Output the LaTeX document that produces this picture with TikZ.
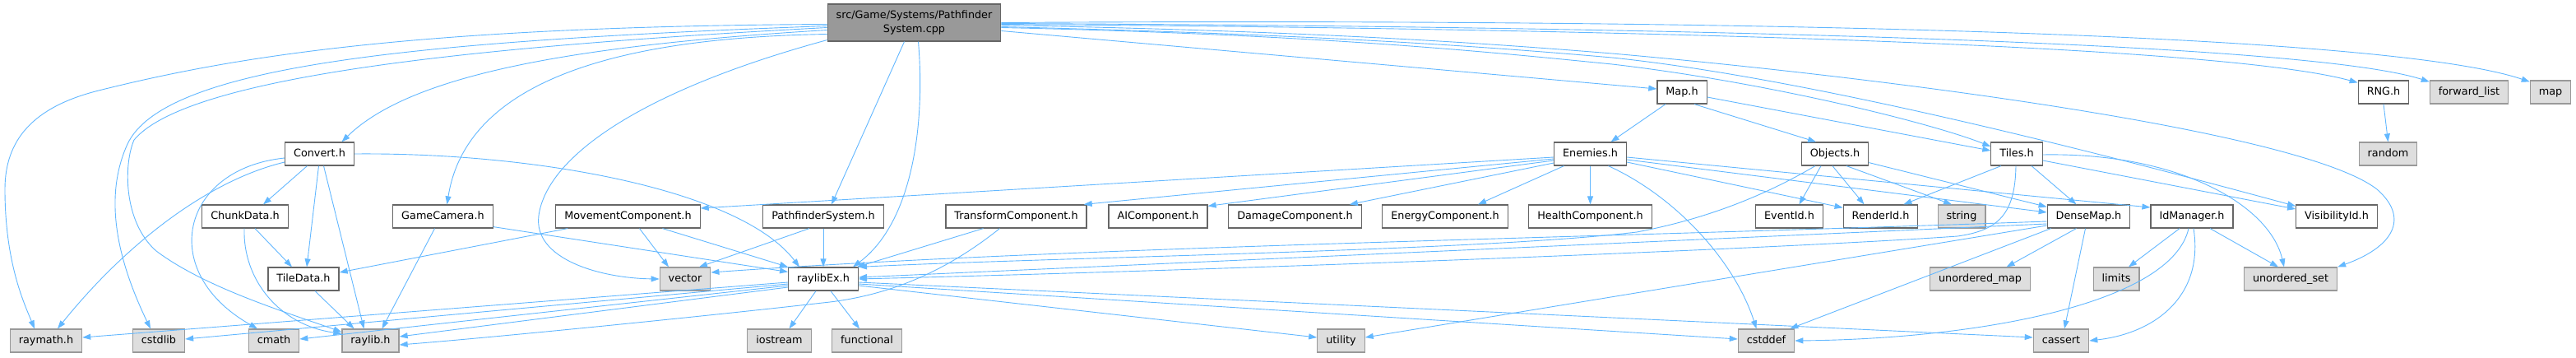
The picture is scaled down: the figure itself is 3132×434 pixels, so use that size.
\documentclass[tikz,border=0pt]{standalone}
\usepackage{fontspec}
\setmainfont{DejaVu Sans}
\usetikzlibrary{arrows.meta}
\definecolor{edgec}{HTML}{63B8FF}
\definecolor{gfour}{HTML}{666666}
\definecolor{gsix}{HTML}{999999}
\definecolor{geight}{HTML}{DEDEDE}
\begin{document}
\begin{tikzpicture}[x=1pt,y=-1pt,
  base/.style={line width=1.2pt, inner xsep=10.5pt, inner ysep=0pt, font=\fontsize{12.8pt}{17pt}\selectfont},
  box/.style={base, draw=gfour, fill=white, minimum height=28pt, text height=9.4pt, text depth=2.6pt},
  sys/.style={box, draw=gsix, fill=geight},
  rootbox/.style={base, draw=gfour, fill=gsix, align=center, minimum height=45pt},
  e/.style={draw=edgec, line width=0.9pt, -{Triangle[length=10pt,width=7pt]}}]
\fill[white] (0,0) rectangle (3132,434);
\useasboundingbox (0,0) rectangle (3132,434);

% nodes
\node[rootbox] (root) at (1111.5,27.5) {src/Game/Systems/Pathfinder\\System.cpp};
\node[box] (Convert) at (388.5,187) {Convert.h};
\node[box] (ChunkData) at (298,263) {ChunkData.h};
\node[box] (GameCamera) at (538.5,263) {GameCamera.h};
\node[box] (Movement) at (763.5,263) {MovementComponent.h};
\node[box] (Pathfinder) at (1001,263) {PathfinderSystem.h};
\node[box] (TileData) at (369,339) {TileData.h};
\node[sys] (vector) at (833,339) {vector};
\node[box] (raylibEx) at (1001,339) {raylibEx.h};
\node[sys] (raymath) at (56,414) {raymath.h};
\node[sys] (cstdlib) at (193,414) {cstdlib};
\node[sys] (cmath) at (333,414) {cmath};
\node[sys] (raylib) at (450.5,414) {raylib.h};
\node[sys] (iostream) at (947.5,414) {iostream};
\node[sys] (functional) at (1054,414) {functional};
\node[box] (Map) at (2045,112) {Map.h};
\node[box] (Enemies) at (1933.5,187) {Enemies.h};
\node[box] (Transform) at (1235.5,263) {TransformComponent.h};
\node[box] (AI) at (1408,263) {AIComponent.h};
\node[box] (Damage) at (1574.5,263) {DamageComponent.h};
\node[box] (Energy) at (1757,263) {EnergyComponent.h};
\node[box] (Health) at (1933.5,263) {HealthComponent.h};
\node[sys] (utility) at (1630.5,414) {utility};
\node[box] (RNG) at (2898,112) {RNG.h};
\node[sys] (forwardlist) at (3002,112) {forward\_list};
\node[sys] (map) at (3101,112) {map};
\node[box] (Objects) at (2231,187) {Objects.h};
\node[box] (Tiles) at (2452,187) {Tiles.h};
\node[sys] (random) at (2903.5,187) {random};
\node[box] (EventId) at (2175.5,263) {EventId.h};
\node[box] (RenderId) at (2286.5,263) {RenderId.h};
\node[sys] (string) at (2385,263) {string};
\node[box] (DenseMap) at (2539.5,263) {DenseMap.h};
\node[box] (IdManager) at (2665,263) {IdManager.h};
\node[box] (VisibilityId) at (2841,263) {VisibilityId.h};
\node[sys] (unorderedmap) at (2407.5,339) {unordered\_map};
\node[sys] (limits) at (2573,339) {limits};
\node[sys] (unorderedset) at (2785,339) {unordered\_set};
\node[sys] (cstddef) at (2147.5,414) {cstddef};
\node[sys] (cassert) at (2506,414) {cassert};

% root edges
\draw[e] ([shift={(0,2)}]root.west) .. controls (500,32) and (280,70) .. (120,110) .. controls (40,130) and (6,170) .. (6,230) .. controls (6,320) and (30,370) .. ([shift={(-14,0)}]raymath.north);
\draw[e] ([shift={(0,4)}]root.west) .. controls (500,50) and (200,80) .. (155,175) .. controls (130,230) and (135,300) .. ([shift={(-10,0)}]cstdlib.north);
\draw[e] ([shift={(0,6)}]root.west) .. controls (600,55) and (230,90) .. (163,170) .. controls (150,200) and (150,270) .. (190,305) .. controls (250,350) and (350,380) .. ([shift={(0,4)}]raylib.north west);
\draw[e] ([shift={(0,9)}]root.west) .. controls (700,55) and (500,90) .. ([shift={(27,0)}]Convert.north);
\draw[e] ([shift={(0,14)}]root.west) .. controls (800,45) and (570,80) .. ([shift={(5,0)}]GameCamera.north);
\draw[e] ([shift={(0,-2)}]root.south west) .. controls (780,110) and (665,190) .. (655,262) .. controls (648,315) and (730,338) .. (vector.west);
\draw[e] ([shift={(-12,0)}]root.south) -- ([shift={(10,0)}]Pathfinder.north);
\draw[e] ([shift={(5,0)}]root.south) .. controls (1125,150) and (1110,270) .. ([shift={(36,0)}]raylibEx.north);
\draw[e] ([shift={(0,10)}]root.east) -- ([shift={(0,-4)}]Map.west);
\draw[e] ([shift={(0,6)}]root.east) .. controls (1600,42) and (1800,62) .. (1960,78) .. controls (2150,100) and (2350,150) .. ([shift={(0,-9)}]Tiles.west);
\draw[e] ([shift={(0,2)}]root.east) .. controls (2000,35) and (2700,55) .. ([shift={(0,3)}]RNG.north west);
\draw[e] ([shift={(0,1)}]root.east) .. controls (2000,32) and (2800,50) .. ([shift={(0,2)}]forwardlist.north west);
\draw[e] (root.east) .. controls (2100,22) and (2900,40) .. ([shift={(0,2)}]map.north west);
\draw[e] ([shift={(0,3)}]root.east) .. controls (1600,38) and (1800,52) .. (1960,65) .. controls (2300,95) and (2800,160) .. (2890,230) .. controls (2930,265) and (2910,300) .. (unorderedset.north east);
\draw[e] ([shift={(0,5)}]root.east) .. controls (1600,42) and (1800,56) .. (1960,70) .. controls (2200,95) and (2550,185) .. ([shift={(0,2)}]VisibilityId.north west);

% Convert
\draw[e] ([shift={(0,10)}]Convert.west) .. controls (250,220) and (150,300) .. ([shift={(14,0)}]raymath.north);
\draw[e] ([shift={(0,5)}]Convert.west) .. controls (220,205) and (190,330) .. ([shift={(-20,0)}]cmath.north);
\draw[e] ([shift={(-15,0)}]Convert.south) -- ([shift={(22,0)}]ChunkData.north);
\draw[e] ([shift={(-1,0)}]Convert.south) -- ([shift={(4,0)}]TileData.north);
\draw[e] ([shift={(5,0)}]Convert.south) -- ([shift={(-8,0)}]raylib.north);
\draw[e] (Convert.east) .. controls (650,185) and (900,230) .. ([shift={(-29,0)}]raylibEx.north);

% ChunkData, TileData, GameCamera
\draw[e] ([shift={(12,0)}]ChunkData.south) -- ([shift={(-14,0)}]TileData.north);
\draw[e] ([shift={(-1,0)}]ChunkData.south) .. controls (295,340) and (340,395) .. ([shift={(0,6)}]raylib.north west);
\draw[e] ([shift={(14,0)}]TileData.south) -- ([shift={(-20,0)}]raylib.north);
\draw[e] ([shift={(-10,0)}]GameCamera.south) -- ([shift={(14,0)}]raylib.north);
\draw[e] ([shift={(0,-2)}]GameCamera.south east) -- ([shift={(0,6)}]raylibEx.north west);

% MovementComponent, PathfinderSystem
\draw[e] ([shift={(15,0)}]Movement.south west) -- ([shift={(0,-8)}]TileData.east);
\draw[e] ([shift={(14,0)}]Movement.south) -- ([shift={(-20,0)}]vector.north);
\draw[e] ([shift={(42,0)}]Movement.south) -- (raylibEx.north west);
\draw[e] ([shift={(-17,0)}]Pathfinder.south) -- ([shift={(17,0)}]vector.north);
\draw[e] (Pathfinder.south) -- (raylibEx.north);

% raylibEx
\draw[e] ([shift={(0,4)}]raylibEx.west) -- ([shift={(0,-4)}]raymath.east);
\draw[e] ([shift={(0,6)}]raylibEx.west) -- ([shift={(0,-2)}]cstdlib.east);
\draw[e] ([shift={(0,8)}]raylibEx.west) -- ([shift={(0,-2)}]cmath.east);
\draw[e] ([shift={(0,10)}]raylibEx.west) -- ([shift={(0,-5)}]raylib.east);
\draw[e] ([shift={(-9,0)}]raylibEx.south) -- ([shift={(12,0)}]iostream.north);
\draw[e] ([shift={(9,0)}]raylibEx.south) -- ([shift={(-9,0)}]functional.north);
\draw[e] ([shift={(0,8)}]raylibEx.east) -- ([shift={(0,-4)}]utility.west);
\draw[e] ([shift={(0,6)}]raylibEx.east) -- ([shift={(0,-2)}]cstddef.west);
\draw[e] ([shift={(0,4)}]raylibEx.east) -- ([shift={(0,-4)}]cassert.west);

% TransformComponent
\draw[e] ([shift={(-40,0)}]Transform.south) -- ([shift={(-2,0)}]raylibEx.north east);
\draw[e] ([shift={(-20,0)}]Transform.south) .. controls (1150,330) and (1080,360) .. (1000,368) .. controls (850,385) and (600,410) .. ([shift={(0,5)}]raylib.east);

% Map
\draw[e] ([shift={(-20,0)}]Map.south) -- ([shift={(25,0)}]Enemies.north);
\draw[e] ([shift={(15,0)}]Map.south) -- ([shift={(-23,0)}]Objects.north);
\draw[e] ([shift={(0,6)}]Map.east) -- ([shift={(0,-4)}]Tiles.west);

% Enemies
\draw[e] ([shift={(0,4)}]Enemies.west) -- ([shift={(0,-10)}]Movement.east);
\draw[e] ([shift={(0,6)}]Enemies.west) -- ([shift={(-4,0)}]Transform.north east);
\draw[e] ([shift={(0,8)}]Enemies.west) -- ([shift={(0,2)}]AI.north east);
\draw[e] ([shift={(0,11)}]Enemies.west) -- ([shift={(-15,0)}]Damage.north east);
\draw[e] ([shift={(-32,0)}]Enemies.south) -- ([shift={(40,0)}]Energy.north);
\draw[e] (Enemies.south) -- (Health.north);
\draw[e] ([shift={(22,0)}]Enemies.south) .. controls (2040,240) and (2110,320) .. ([shift={(-12,0)}]cstddef.north);
\draw[e] ([shift={(0,4)}]Enemies.east) -- ([shift={(0,-11)}]IdManager.west);
\draw[e] ([shift={(0,7)}]Enemies.east) -- ([shift={(0,-5)}]DenseMap.west);
\draw[e] ([shift={(0,10)}]Enemies.east) -- ([shift={(0,4)}]RenderId.north west);

% Objects
\draw[e] ([shift={(-17,0)}]Objects.south) -- ([shift={(12,0)}]EventId.north);
\draw[e] ([shift={(-3,0)}]Objects.south) -- ([shift={(-20,0)}]RenderId.north);
\draw[e] ([shift={(14,0)}]Objects.south) -- ([shift={(-12,0)}]string.north);
\draw[e] ([shift={(0,-4)}]Objects.south east) -- ([shift={(0,3)}]DenseMap.north west);
\draw[e] ([shift={(-24,0)}]Objects.south) .. controls (2150,235) and (2080,265) .. (1990,282) .. controls (1800,305) and (1300,312) .. (raylibEx.north east);

% Tiles
\draw[e] ([shift={(-19,0)}]Tiles.south) -- ([shift={(-18,0)}]RenderId.north east);
\draw[e] ([shift={(18,0)}]Tiles.south) -- ([shift={(-15,0)}]DenseMap.north);
\draw[e] ([shift={(0,8)}]Tiles.east) -- ([shift={(0,-9)}]VisibilityId.west);
\draw[e] ([shift={(0,1)}]Tiles.east) .. controls (2650,185) and (2760,250) .. ([shift={(-8,0)}]unorderedset.north);
\draw[e] ([shift={(-1,0)}]Tiles.south) .. controls (2450,260) and (2430,280) .. (2380,287) .. controls (2200,300) and (1600,325) .. (raylibEx.east);

% DenseMap
\draw[e] ([shift={(0,6)}]DenseMap.west) .. controls (1900,290) and (1300,300) .. ([shift={(0,-8)}]vector.east);
\draw[e] ([shift={(0,9)}]DenseMap.west) -- ([shift={(0,-2)}]raylibEx.east);
\draw[e] ([shift={(0,11)}]DenseMap.west) -- ([shift={(0,-4)}]utility.east);
\draw[e] ([shift={(5,0)}]DenseMap.south west) -- ([shift={(-6,0)}]cstddef.north east);
\draw[e] ([shift={(-15,0)}]DenseMap.south) -- ([shift={(32,0)}]unorderedmap.north);
\draw[e] ([shift={(-4,0)}]DenseMap.south) -- ([shift={(4,0)}]cassert.north);

% IdManager
\draw[e] ([shift={(-15,0)}]IdManager.south) -- ([shift={(15,0)}]limits.north);
\draw[e] ([shift={(22,0)}]IdManager.south) -- ([shift={(-15,0)}]unorderedset.north);
\draw[e] ([shift={(-4,0)}]IdManager.south) .. controls (2640,370) and (2400,412) .. (cstddef.east);
\draw[e] ([shift={(2,0)}]IdManager.south) .. controls (2680,360) and (2620,405) .. (cassert.east);

% RNG
\draw[e] (RNG.south) -- (random.north);
\end{tikzpicture}
\end{document}
